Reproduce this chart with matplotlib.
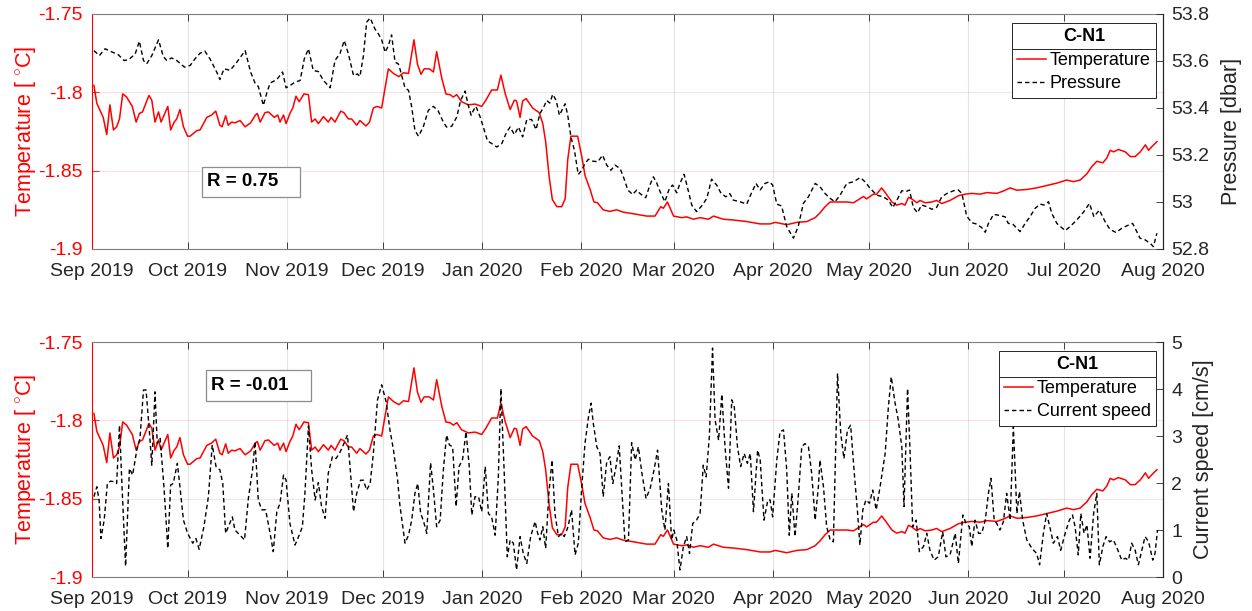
import numpy as np
import pandas as pd
import matplotlib
matplotlib.use('Agg')
import matplotlib.pyplot as plt
import matplotlib.dates as mdates
import matplotlib.ticker as mtick
from matplotlib.lines import Line2D
from matplotlib.patches import Rectangle

plt.rcParams['font.family'] = ['Liberation Sans', 'DejaVu Sans']
plt.rcParams['mathtext.fontset'] = 'custom'
plt.rcParams['mathtext.rm'] = 'Liberation Sans'

# ______________________ data (days since 2019-09-01) ______________________

start = pd.Timestamp('2019-09-01')

temp_days = [0.6, 1.5, 3.5, 4.6, 5.6, 6.7, 7.7, 8.6, 9.6, 10.8, 12.6, 13.8, 14.8, 15.8, 17.8, 18.7, 19.7,
             20.8, 21.6, 23.7, 24.6, 25.7, 26.5, 27.5, 28.6, 29.9, 30.7, 32.7, 33.8, 35.9, 37.4, 38.7,
             40.0, 40.7, 41.8, 42.6, 43.7, 44.7, 46.3, 47.9, 49.6, 51.1, 51.7, 52.6, 54.1, 55.2, 57.0,
             58.1, 58.8, 59.9, 60.7, 61.9, 62.8, 63.8, 64.8, 66.3, 67.7, 68.7, 69.8, 70.8, 72.4, 73.9,
             74.8, 76.0, 77.8, 78.8, 80.2, 81.2, 82.8, 83.8, 85.7, 86.8, 88.0, 89.1, 90.6, 92.7, 94.3,
             96.0, 97.4, 99.0,
             100.7, 101.8, 102.9, 103.9, 105.5, 106.8, 107.8, 109.4, 110.7, 112.0, 113.0, 114.1, 115.6,
             117.7, 119.8, 121.9, 123.2, 125.0, 126.8, 127.9, 129.2, 130.8, 132.1, 132.8, 133.9, 134.7,
             135.8, 137.8, 139.9, 141.0, 141.9, 143.0, 144.0, 145.4, 146.9, 148.0, 148.8, 149.8, 151.9,
             153.2, 154.2, 155.8, 157.0, 158.1, 159.9, 162.0, 164.1, 166.2, 169.3, 173.5, 176.1, 177.9,
             178.7, 180.0, 181.9, 184.5, 186.0, 188.1, 190.2, 192.8, 194.4, 197.5, 200.6, 204.8, 209.0,
             212.1, 213.7, 217.3, 220.5, 223.6, 226.2,
             227.7, 229.3, 230.9, 233.0, 236.1, 238.2, 241.3, 242.3, 244.4, 245.4, 247.0, 248.3, 250.2,
             251.7, 253.3, 254.3, 255.4, 256.4, 258.0, 259.0, 260.6, 262.7, 264.2, 265.8, 268.4, 271.0,
             273.1, 275.2, 277.8, 279.9, 283.0, 285.1, 287.2, 289.3, 292.4, 295.5, 298.6, 301.7, 304.9,
             307.0, 309.1, 311.2, 312.7, 314.3, 316.2, 317.4, 318.5, 319.5, 321.1, 323.2, 324.8, 326.3,
             327.9, 329.5, 330.5, 331.6, 333.1]
temp_vals = [-1.7956, -1.807, -1.816, -1.827, -1.808, -1.824, -1.822, -1.817, -1.801, -1.803,
             -1.809, -1.819, -1.8135, -1.8125, -1.802, -1.805, -1.819, -1.8125, -1.819, -1.809,
             -1.824, -1.819, -1.817, -1.811, -1.822, -1.828, -1.828, -1.8245, -1.824, -1.816,
             -1.8145, -1.812, -1.821, -1.822, -1.815, -1.821, -1.819, -1.8195, -1.818, -1.822,
             -1.8195, -1.8145, -1.8135, -1.819, -1.813, -1.8125, -1.816, -1.8145, -1.819, -1.8145,
             -1.820, -1.8135, -1.810, -1.8025, -1.806, -1.801, -1.8015, -1.819, -1.817, -1.820,
             -1.8155, -1.819, -1.816, -1.819, -1.812, -1.813, -1.817, -1.817, -1.821, -1.818,
             -1.8215, -1.819, -1.810, -1.809, -1.810, -1.785, -1.788, -1.790, -1.7875, -1.788,
             -1.7665, -1.782, -1.7885, -1.785, -1.785, -1.787, -1.774, -1.791, -1.801, -1.8015,
             -1.803, -1.8015, -1.806, -1.808, -1.8075, -1.809, -1.805, -1.7985, -1.7985, -1.789,
             -1.8005, -1.811, -1.805, -1.8055, -1.816, -1.8055, -1.804, -1.810, -1.813, -1.820,
             -1.8315, -1.854, -1.8685, -1.873, -1.873, -1.868, -1.843, -1.828, -1.828, -1.841,
             -1.853, -1.862, -1.870, -1.8705, -1.875, -1.876, -1.875, -1.8765, -1.8775, -1.879,
             -1.879, -1.873, -1.874, -1.870, -1.879, -1.880, -1.8795, -1.881, -1.880, -1.881,
             -1.879, -1.881, -1.8815, -1.8825, -1.884, -1.884, -1.883, -1.8845, -1.883, -1.8825,
             -1.880,
             -1.877, -1.873, -1.870, -1.870, -1.870, -1.8705, -1.8665, -1.868, -1.865, -1.865,
             -1.861, -1.8645, -1.870, -1.872, -1.871, -1.872, -1.867, -1.868, -1.8705, -1.869,
             -1.8705, -1.870, -1.869, -1.871, -1.869, -1.866, -1.865, -1.8645, -1.865, -1.864,
             -1.8645, -1.863, -1.861, -1.8625, -1.862, -1.861, -1.8595, -1.858, -1.856, -1.857,
             -1.856, -1.852, -1.8475, -1.844, -1.845, -1.842, -1.837, -1.838, -1.8365, -1.838,
             -1.841, -1.841, -1.838, -1.8335, -1.837, -1.8345, -1.8315]

pres_days = [0.6, 2.3, 4.1, 5.6, 8.2, 10.0, 11.4, 13.5, 14.8, 16.1, 17.1, 18.7, 20.8, 22.3, 23.4, 24.9,
             26.5, 28.9, 30.7, 32.2, 33.8, 35.3, 36.9, 39.0, 40.0, 41.3, 43.2, 45.3, 47.9, 49.6, 51.0,
             52.0, 53.6, 54.6, 55.7, 57.8, 59.6, 60.7, 61.9, 63.5, 65.1, 66.4, 67.7, 69.2, 70.8, 72.4,
             74.5, 76.0, 77.6, 78.9, 80.2, 81.8, 83.0, 83.8, 84.9, 85.9, 87.0, 88.5, 89.6, 90.6, 91.7,
             92.7, 93.7, 94.8, 95.8,
             96.3, 97.9, 99.0, 100.0, 101.0, 102.1, 103.6, 105.2, 106.8, 108.3, 109.9, 110.9, 112.5,
             114.1, 115.3, 116.7, 117.7, 118.6, 119.3, 120.1, 121.4, 122.4, 123.7, 125.0, 126.6, 128.2,
             129.7, 130.8, 132.1, 133.4, 134.7, 136.0, 137.5, 138.9, 140.1, 141.4, 142.2, 143.2, 144.1,
             145.2, 146.2, 147.1, 148.0, 148.8, 149.8, 150.9, 152.1, 153.2, 154.2, 155.3, 156.6, 158.2,
             159.7, 161.0, 162.3, 163.6, 165.2, 166.4, 167.6, 169.1, 170.4, 171.4, 173.2, 174.5, 175.6,
             176.6, 177.7, 179.2, 180.6, 181.6, 182.9, 183.9, 185.2, 186.2, 187.6, 189.1, 190.7, 192.3,
             193.8, 195.4, 196.8, 198.3, 199.5, 200.6, 202.7, 204.8, 206.3, 207.7, 209.0, 210.5, 211.9,
             212.9, 214.2, 215.7, 217.3, 219.4, 220.9, 222.5, 224.1, 226.2,
             227.7, 229.3, 230.9, 232.4, 234.0, 236.1, 238.2, 240.3, 241.8, 243.4, 245.5, 247.5, 249.1,
             250.5, 251.5, 253.3, 254.6, 255.7, 256.9, 258.2, 259.5, 261.1, 262.7, 264.2, 265.8, 267.4,
             269.5, 271.0, 272.1, 273.6, 275.2, 276.7, 278.3, 279.4, 280.4, 282.0, 283.5, 285.6, 286.6,
             288.0, 289.3, 290.3, 291.9, 293.4, 295.0, 296.6, 297.8, 299.2, 300.2, 301.8, 304.4, 305.9,
             308.0, 310.1, 312.0, 313.4, 315.1, 316.9, 318.4, 320.3, 322.1, 323.6, 325.5, 326.8, 327.8,
             329.4, 331.0, 332.0, 333.1]
pres_vals = [53.644, 53.623, 53.652, 53.642, 53.627, 53.602, 53.605, 53.630, 53.684, 53.602,
             53.588, 53.623, 53.690, 53.619, 53.602, 53.613, 53.602, 53.574, 53.581, 53.609,
             53.633, 53.642, 53.609, 53.553, 53.521, 53.567, 53.560, 53.595, 53.644, 53.553,
             53.506, 53.492, 53.411, 53.461, 53.506, 53.521, 53.553, 53.486, 53.495, 53.510,
             53.517, 53.609, 53.652, 53.560, 53.555, 53.517, 53.486, 53.602, 53.633, 53.687,
             53.630, 53.538, 53.545, 53.534, 53.623, 53.765, 53.783, 53.736, 53.715, 53.690,
             53.637, 53.666, 53.711, 53.595, 53.588,
             53.567, 53.486, 53.475, 53.404, 53.305, 53.280, 53.319, 53.390, 53.407, 53.387,
             53.340, 53.319, 53.322, 53.362, 53.432, 53.472, 53.411, 53.369, 53.390, 53.407,
             53.362, 53.319, 53.260, 53.249, 53.234, 53.249, 53.298, 53.319, 53.287, 53.319,
             53.277, 53.351, 53.351, 53.308, 53.376, 53.407, 53.432, 53.421, 53.458, 53.432,
             53.369, 53.393, 53.418, 53.369, 53.277, 53.220, 53.117, 53.135, 53.164, 53.182,
             53.174, 53.171, 53.199, 53.157, 53.135, 53.157, 53.142, 53.100, 53.051, 53.032,
             53.051, 53.036, 53.018, 53.072, 53.107, 53.082, 53.044, 53.001, 53.058, 53.072,
             53.039, 53.079, 53.118, 53.065, 52.987, 52.959, 52.983, 53.015, 53.097, 53.072,
             53.036, 53.022, 53.036, 53.008, 53.001, 52.991, 53.039, 53.079, 53.051, 53.079,
             53.086, 53.072, 52.991, 52.983, 52.895, 52.846, 52.895, 52.994, 53.022, 53.079,
             53.065, 53.036, 53.015, 53.001, 53.029, 53.079, 53.086, 53.104, 53.086, 53.058,
             53.029, 53.022, 53.008, 52.976, 53.001, 53.048, 53.044, 53.051, 52.977, 52.954,
             52.987, 52.980, 52.969, 52.977, 53.022, 53.036, 53.048, 53.051, 53.036, 52.940,
             52.912, 52.906, 52.891, 52.871, 52.909, 52.947, 52.944, 52.937, 52.909, 52.906,
             52.888, 52.874, 52.909, 52.937, 52.973, 52.991, 52.987, 53.001, 52.952, 52.909,
             52.878, 52.895, 52.923, 52.956, 52.994, 52.937, 52.966, 52.916, 52.884, 52.870,
             52.888, 52.898, 52.909, 52.874, 52.846, 52.839, 52.824, 52.810, 52.867]

speed_days = [0.6, 1.5, 2.2, 2.8, 3.8, 4.8, 5.8, 6.7, 7.7, 8.6, 9.3, 10.5, 11.7, 12.7, 14.0, 15.0, 16.1,
              16.9, 17.9, 18.7, 19.7, 20.4, 21.3, 22.5, 23.7, 24.6, 25.4, 26.7, 27.5, 28.6, 29.9, 31.5,
              32.5, 33.5, 35.0, 36.4, 37.6, 38.8, 40.0, 40.9, 41.8, 43.0, 43.9, 44.7, 46.3, 47.7, 48.9,
              50.2, 51.0, 52.0, 53.1, 54.3, 55.7, 56.7, 57.8, 58.8, 59.9, 60.7, 61.9, 63.5, 64.8, 65.8,
              66.6, 67.7, 68.7, 69.8, 70.8, 71.8, 72.9, 73.9, 75.2, 76.3, 77.4, 78.6, 79.9, 80.7, 81.8,
              82.8, 84.0, 84.9, 85.9, 87.0, 88.0, 89.3, 90.6, 92.0, 93.2, 94.3, 95.6,
              96.3, 97.9, 99.0, 100.0, 101.0, 101.9, 102.8, 103.6, 104.7, 105.9, 106.8, 107.8, 108.9,
              109.9, 110.9, 111.8, 112.8, 113.9, 114.8, 115.9, 117.0, 118.0, 118.8, 119.8, 120.9, 121.9,
              123.0, 124.0, 125.0, 126.1, 127.1, 127.9, 128.9, 129.9, 130.8, 131.8, 132.8, 133.9, 134.9,
              136.0, 137.2, 138.6, 139.4, 140.1, 141.0, 141.9, 142.9, 143.9, 144.8, 145.9, 146.9, 147.7,
              148.9, 150.0, 151.1, 152.1, 153.2, 154.2, 155.3, 156.1, 156.8, 157.9, 158.9, 159.9, 161.0,
              162.0, 162.9, 163.9, 164.9, 165.8, 166.7, 167.8, 168.8, 169.9, 170.9, 172.0, 173.3, 174.6,
              175.8, 176.9, 178.2, 179.2, 180.3, 181.3, 182.0, 182.9, 183.9, 185.0, 186.0, 186.9, 187.9,
              189.1, 190.2, 191.2, 192.1, 193.1, 194.1, 194.9, 196.0, 197.0, 198.0, 199.1, 200.1, 200.9,
              201.9, 202.9, 204.0, 205.0, 205.9, 206.9, 208.2, 209.0, 210.2, 211.4, 212.1, 212.9, 214.2,
              215.2, 216.3, 217.3, 218.1, 218.9, 219.9, 221.0, 222.0, 223.0, 224.1, 225.1, 226.2, 227.2,
              227.7, 228.8, 229.8, 230.9, 231.9, 233.2, 234.2, 235.2, 236.3, 237.3, 238.4, 239.4, 240.2,
              241.1, 242.1, 243.2, 244.2, 245.3, 246.5, 248.1, 249.1, 250.0, 251.2, 252.2, 253.3, 254.0,
              255.1, 255.9, 256.7, 257.8, 258.8, 260.1, 261.1, 262.1, 263.4, 264.7, 266.1, 267.1, 268.4,
              270.0, 271.0, 272.4, 273.4, 274.4, 275.2, 276.2, 277.3, 278.3, 279.4, 280.4, 281.2, 282.2,
              283.0, 284.0, 285.1, 286.1, 287.2, 288.2, 289.3, 290.1, 291.1, 292.4, 294.0, 295.5, 296.4,
              297.6, 298.6, 299.7, 300.7, 302.0, 303.0, 304.4, 305.7, 306.7, 307.5, 308.5, 309.3, 310.3,
              311.2, 312.2, 313.3, 314.3, 315.1, 316.2, 317.2, 318.3, 319.5, 320.9, 322.1, 323.2, 324.2,
              325.2, 326.3, 327.3, 328.4, 329.4, 330.5, 331.8, 332.5, 333.3]
speed_vals = [1.71, 1.92, 1.64, 0.82, 1.21, 1.99, 2.04, 2.03, 1.99, 3.23,
              2.06, 0.23, 2.31, 2.17, 2.70, 2.95, 3.98, 3.98, 3.13, 2.38,
              3.94, 2.84, 2.95, 1.92, 0.61, 1.96, 1.99, 2.42, 1.92, 1.21,
              0.93, 0.72, 0.82, 0.59, 1.07, 1.71, 2.81, 2.35, 2.28, 1.99,
              0.93, 1.13, 1.28, 1.00, 0.89, 0.79, 1.67, 2.28, 2.88, 1.64,
              1.43, 1.43, 0.93, 0.54, 1.39, 1.57, 2.17, 2.06, 1.14, 0.68,
              0.89, 1.07, 1.78, 3.21, 2.28, 1.64, 2.01, 1.50, 1.25, 2.21,
              2.56, 2.52, 2.63, 2.81, 3.02, 2.35, 1.39, 1.78, 2.06, 2.06,
              1.85, 1.99, 2.63, 3.77, 4.09, 3.73, 3.13, 2.70, 2.06,
              1.53, 0.72, 0.89, 1.21, 1.78, 1.99, 1.35, 1.21, 0.93, 2.43,
              1.85, 1.07, 1.21, 2.28, 3.02, 2.81, 2.77, 1.50, 2.35, 2.50,
              3.09, 2.35, 1.32, 1.71, 1.71, 1.39, 2.35, 1.35, 1.28, 0.89,
              2.13, 4.01, 2.28, 0.43, 0.79, 0.72, 0.15, 0.86, 0.50, 0.29,
              0.86, 1.18, 0.93, 0.79, 1.07, 0.61, 1.78, 2.49, 1.35, 0.86,
              0.93, 0.86, 1.07, 1.43, 0.47, 0.72, 1.92, 2.84, 3.41, 3.70,
              3.27, 2.77, 2.63, 1.71, 2.45, 2.56, 1.99, 2.35, 2.79, 1.78,
              0.75, 0.79, 2.86, 2.49, 2.77, 2.21, 1.67, 1.89, 2.28, 2.70,
              1.43, 1.00, 1.99, 0.79, 1.00, 0.79, 0.15, 0.65, 0.86, 0.50,
              1.14, 1.21, 1.35, 2.38, 2.13, 2.99, 4.87, 3.34, 2.91, 3.89,
              2.77, 1.89, 3.77, 3.62, 2.77, 2.35, 2.63, 2.42, 2.63, 1.39,
              2.70, 2.49, 1.21, 1.64, 1.64, 1.28, 2.49, 3.09, 3.13, 2.28,
              0.89, 1.78, 0.86, 1.78, 2.77, 2.84, 2.77, 2.21, 1.21, 1.92,
              2.49, 1.92, 1.07, 0.79, 0.75, 4.33, 3.06, 2.52, 3.13, 3.23,
              2.24, 1.43, 0.68, 1.43, 1.64, 1.57, 1.85, 1.43, 1.92, 2.63,
              3.62, 4.26, 3.70, 3.34, 2.77, 1.50, 4.01, 2.63, 1.07, 1.21,
              0.54, 0.65, 0.93, 0.57, 0.36, 0.43, 0.96, 0.43, 0.47, 0.93,
              0.29, 1.32, 1.14, 1.07, 0.65, 1.21, 0.93, 0.93, 1.21, 1.78,
              2.10, 1.21, 1.14, 1.00, 1.18, 1.78, 1.21, 3.20, 1.35, 1.82,
              1.21, 0.79, 0.61, 0.50, 0.26, 0.93, 1.35, 1.04, 0.72, 0.86,
              0.57, 0.93, 1.21, 1.32, 1.07, 0.47, 1.35, 0.93, 1.11, 0.40,
              1.35, 1.78, 0.26, 0.65, 0.86, 0.75, 0.79, 0.57, 0.36, 0.40,
              0.36, 0.72, 0.57, 0.26, 0.57, 0.86, 0.75, 0.36, 0.50, 1.00]

temp_ticks = [-1.9, -1.85, -1.8, -1.75]
pres_ticks = [52.8, 53.0, 53.2, 53.4, 53.6, 53.8]
speed_ticks = [0, 1, 2, 3, 4, 5]
station = 'C-N1'
r_values = ['R = 0.75', 'R = -0.01']


def to_dates(days):
    return start + pd.to_timedelta(np.array(days), unit='D')


# ________________________ drawing _____________________________________

AX_GRAY = '#262626'
RED = '#ff0000'


def panel(fig, rect, right_days, right_vals, right_ticks, right_label, leg_label, r_text, r_box):
    ax = fig.add_axes(rect)
    ax2 = ax.twinx()

    l1, = ax.plot(to_dates(temp_days), temp_vals, color=RED, lw=1.1, zorder=3)
    l2, = ax2.plot(to_dates(right_days), right_vals, color='black', lw=1.0,
                   linestyle=(0, (3.2, 2.2)))

    ax.set_xlim(pd.Timestamp('2019-09-01'), pd.Timestamp('2020-08-01'))
    ax.set_ylim(-1.9, -1.75)
    ax.set_yticks(temp_ticks)
    ax.yaxis.set_major_formatter(mtick.FormatStrFormatter('%g'))
    ax2.set_ylim(right_ticks[0], right_ticks[-1])
    ax2.set_yticks(right_ticks)
    ax2.yaxis.set_major_formatter(mtick.FormatStrFormatter('%g'))

    ax.xaxis.set_major_locator(mdates.MonthLocator())
    ax.xaxis.set_major_formatter(mdates.DateFormatter('%b %Y'))

    ax.grid(axis='x', color=AX_GRAY, alpha=0.12, lw=0.8)
    ax.grid(axis='y', color=RED, alpha=0.12, lw=0.8)

    ax.tick_params(axis='x', direction='in', top=True, length=5, pad=10,
                   labelsize=14, colors=AX_GRAY, width=0.6)
    ax.tick_params(axis='y', direction='in', length=5, pad=7, labelsize=14,
                   colors=RED, width=0.6)
    ax2.tick_params(axis='y', direction='in', length=5, pad=6, labelsize=14,
                    colors=AX_GRAY, width=0.6)

    for s in ['top', 'bottom']:
        ax.spines[s].set_color('#7f7f7f')
        ax.spines[s].set_linewidth(0.8)
    ax.spines['left'].set_color(RED)
    ax.spines['left'].set_linewidth(0.8)
    ax2.spines['right'].set_color(AX_GRAY)
    ax2.spines['right'].set_linewidth(0.8)
    for s in ['left', 'top', 'bottom']:
        ax2.spines[s].set_visible(False)

    ax.set_ylabel('Temperature [ $^{\\circ}$C]', color=RED, fontsize=15.5, labelpad=0)
    ax2.set_ylabel(right_label, color=AX_GRAY, fontsize=15.5, labelpad=8)

    # R annotation box (fixed size, text left aligned as in MATLAB)
    x0, y0, w, h = r_box
    ax2.add_patch(Rectangle((x0, y0), w, h, transform=ax.transAxes, fc='white',
                            ec='#8c8c8c', lw=0.9, zorder=4))
    ax2.text(x0 + 0.005, y0 + h / 2, r_text, transform=ax.transAxes, fontsize=13.5,
             fontweight='bold', va='center', ha='left', zorder=5)

    leg = ax2.legend([l1, l2], ['Temperature', leg_label], loc='upper right',
                     bbox_to_anchor=(0.9935, 0.962), borderaxespad=0, fontsize=13,
                     title=station, title_fontproperties={'weight': 'bold', 'size': 13},
                     fancybox=False, edgecolor=AX_GRAY, framealpha=1,
                     handlelength=1.6, handletextpad=0.2, borderpad=0.3,
                     labelspacing=0.36)
    leg.get_frame().set_linewidth(0.7)
    leg.set_zorder(6)
    return leg


fig = plt.figure(figsize=(12.52, 6.11), dpi=100)

leg1 = panel(fig, [0.0735, 0.5925, 0.8554, 0.3846], pres_days, pres_vals, pres_ticks,
             'Pressure [dbar]', 'Pressure', r_values[0], (0.1027, 0.2213, 0.0915, 0.128))
leg2 = panel(fig, [0.0735, 0.0556, 0.8554, 0.3846], speed_days, speed_vals, speed_ticks,
             'Current speed [cm/s]', 'Current speed', r_values[1], (0.1064, 0.749, 0.098, 0.132))

# MATLAB style rule under the legend title
fig.canvas.draw()
rend = fig.canvas.get_renderer()
inv = fig.transFigure.inverted()
for leg in [leg1, leg2]:
    fb = leg.get_frame().get_window_extent(rend)
    tb = leg.get_title().get_window_extent(rend)
    hb = leg._legend_handle_box.get_window_extent(rend)
    y = (tb.y0 + hb.y1) / 2
    (x0, yy), (x1, _) = inv.transform([(fb.x0, y), (fb.x1, y)])
    fig.add_artist(Line2D([x0, x1], [yy, yy], color=AX_GRAY, lw=0.7, zorder=10))

fig.savefig('out.png', dpi=100)
